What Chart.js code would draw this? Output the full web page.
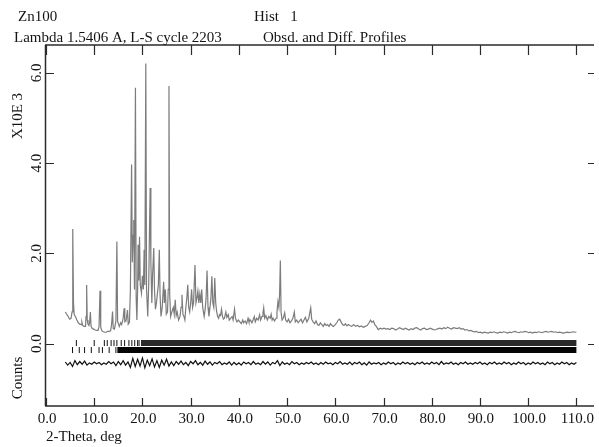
<!DOCTYPE html>
<html>
<head>
<meta charset="utf-8">
<script src="https://cdn.jsdelivr.net/npm/chart.js@4.4.1/dist/chart.umd.min.js"></script>
<style>
html,body{margin:0;padding:0;background:#fff;}
canvas{display:block;}
</style>
</head>
<body>
<canvas id="c" width="599" height="447"></canvas>
<script>
// ---- chart values ----
const headerLeft = ["Zn100", "Lambda 1.5406 A, L-S cycle 2203"];
const headerRight = ["Hist   1", "Obsd. and Diff. Profiles"];
const xAxisTitle = "2-Theta, deg";
const yAxisTitleTop = "X10E 3";
const yAxisTitleBottom = "Counts";

const xTickValues = [0, 10, 20, 30, 40, 50, 60, 70, 80, 90, 100, 110];
const xTickLabels = ["0.0", "10.0", "20.0", "30.0", "40.0", "50.0", "60.0", "70.0", "80.0", "90.0", "100.0", "110.0"];
const yTickValues = [0, 2000, 4000, 6000];
const yTickLabels = ["0.0", "2.0", "4.0", "6.0"];

// observed profile, [2-theta, counts]
const obsLow = [
[4.0,700],[4.3,650],[4.6,600],[4.9,540],[5.2,560],[5.4,700],[5.55,2540],[5.7,900],[5.85,640],[6.1,600],
[6.4,520],[6.7,460],[7.0,430],[7.3,420],[7.45,470],[7.6,400],[7.9,380],[8.2,380],[8.3,600],[8.43,1300],
[8.55,520],[8.7,430],[8.9,400],[9.05,470],[9.2,700],[9.35,380],[9.6,330],[9.9,320],[10.2,300],[10.5,290],
[10.8,290],[11.0,380],[11.2,1170],[11.35,360],[11.6,280],[11.9,260],[12.2,250],[12.5,250],[12.8,270],[13.1,270],
[13.4,280],[13.6,420],[13.8,710],[13.95,330],[14.2,320],[14.5,500],[14.7,2260],[14.85,480],[15.0,450],[15.2,380],
[15.5,460],[15.7,420],[16.0,560],[16.2,780],[16.35,480],[16.6,500],[16.9,740],[17.05,430],[17.3,470],[17.5,1200],
[17.75,3970],[17.9,1800],[18.05,2400],[18.2,2740],[18.35,1200],[18.55,5670],[18.7,1000],[18.85,520],[19.0,1200],[19.1,2190],
[19.25,1400],[19.4,2370],[19.55,1300],[19.8,1120]
];
const obsMid = [
[20.0,1500],[20.2,1200],[20.35,2080],[20.5,1300],[20.7,6210],[20.85,1200],[21.1,600],[21.3,1300],[21.45,2400],[21.6,3450],
[21.75,1800],[21.95,900],[22.1,1500],[22.35,2120],[22.5,1200],[22.7,760],[22.9,900],[23.1,1100],[23.3,1300],[23.5,2080],
[23.65,1100],[23.85,600],[24.1,800],[24.4,1370],[24.55,900],[24.75,1200],[24.95,650],[25.2,700],[25.35,1200],[25.5,5710],
[25.65,1100],[25.85,600],[26.1,700],[26.4,800],[26.6,650],[26.8,970],[27.0,620],[27.2,700],[27.5,520],[27.8,600],
[28.0,800],[28.2,1080],[28.4,650],[28.6,600],[28.8,520],[29.0,800],[29.2,1000],[29.4,1300],[29.6,800],[29.8,700],
[30.0,900],[30.2,1200],[30.4,800],[30.6,900],[30.9,1740],[31.1,900],[31.3,1000],[31.5,1160],[31.7,900],[31.9,1100],
[32.1,900],[32.3,1200],[32.5,800],[32.8,600],[33.0,750],[33.2,1000],[33.4,1620],[33.6,800],[33.8,600],[34.0,800],
[34.2,1000],[34.4,1490],[34.6,900],[34.8,800],[35.0,1450],[35.2,900],[35.4,700],[35.6,600],[35.8,560],[36.0,640],
[36.2,620],[36.4,760],[36.6,600],[36.8,540],[37.0,560],[37.3,700],[37.5,580],[37.8,640],[38.0,520],[38.3,560],
[38.6,600],[38.8,520],[39.1,760],[39.3,560],[39.6,480],[39.9,520]
];
const obsHigh = [
[40.2,480],[40.5,440],[40.8,520],[41.0,460],[41.3,500],[41.6,440],[41.9,560],[42.1,480],[42.4,520],[42.7,460],
[43.0,540],[43.2,600],[43.4,480],[43.7,560],[44.0,520],[44.3,640],[44.5,520],[44.8,600],[45.0,680],[45.15,790],
[45.35,560],[45.6,620],[45.9,520],[46.2,600],[46.5,560],[46.7,650],[46.9,520],[47.1,560],[47.4,500],[47.7,560],
[47.9,700],[48.1,930],[48.3,800],[48.45,1100],[48.6,1840],[48.75,700],[48.95,520],[49.2,560],[49.5,680],[49.7,520],
[50.0,480],[50.3,540],[50.6,460],[50.9,500],[51.2,560],[51.5,700],[51.7,480],[52.0,520],[52.3,460],[52.6,500],
[52.9,540],[53.2,460],[53.5,520],[53.8,580],[54.1,480],[54.5,560],[54.7,680],[54.9,790],[55.1,540],[55.4,480],
[55.7,440],[56.0,500],[56.3,420],[56.6,400],[56.9,460],[57.2,420],[57.5,380],[57.8,440],[58.1,400],[58.4,420],
[58.7,380],[59.0,440],[59.3,400],[59.6,380],[60.0,420],[60.3,460],[60.6,520],[60.9,540],[61.2,480],[61.5,420],
[61.8,400],[62.1,440],[62.4,390],[62.7,420],[63.0,400],[63.4,380],[63.8,420],[64.2,380],[64.6,400],[65.0,370],
[65.4,390],[65.8,360],[66.2,380],[66.6,400],[67.0,460],[67.3,520],[67.6,470],[67.9,500],[68.2,420],[68.5,380],
[68.9,310],[69.3,340],[69.7,320],[70.1,340],[70.5,320],[70.9,330],[71.3,310],[71.7,340],[72.1,330],[72.5,300],
[72.9,320],[73.3,350],[73.7,330],[74.1,310],[74.5,340],[74.9,320],[75.3,300],[75.7,330],[76.1,310],[76.5,340],
[76.9,350],[77.3,320],[77.7,300],[78.1,330],[78.5,340],[78.9,310],[79.3,320],[79.7,340],[80.1,320],[80.5,300],
[80.9,310],[81.3,330],[81.7,340],[82.1,320],[82.5,350],[82.9,330],[83.3,360],[83.7,340],[84.1,320],[84.5,350],
[84.9,340],[85.3,330],[85.7,350],[86.1,320],[86.5,330],[86.9,300],[87.3,310],[87.7,280],[88.1,290],[88.5,270],
[88.9,260],[89.3,270],[89.7,240],[90.1,250],[90.5,230],[90.9,250],[91.3,240],[91.7,230],[92.1,250],[92.5,240],
[92.9,260],[93.3,240],[93.7,230],[94.1,250],[94.5,240],[94.9,260],[95.3,250],[95.7,230],[96.1,250],[96.5,240],
[96.9,260],[97.3,270],[97.7,250],[98.1,240],[98.5,260],[98.9,250],[99.3,270],[99.7,260],[100.1,240],[100.5,250],
[100.9,230],[101.3,250],[101.7,240],[102.1,260],[102.5,250],[102.9,240],[103.3,260],[103.7,270],[104.1,250],[104.5,260],
[104.9,270],[105.3,250],[105.7,260],[106.1,240],[106.5,250],[106.9,240],[107.3,230],[107.7,240],[108.1,250],[108.5,240],
[108.9,250],[109.3,260],[109.7,250],[110.0,255]
];

// difference profile (obs - calc), constant 0.5 deg step from 4.0 deg
const diffStart = 4.0;
const diffStep = 0.5;
const diffValues = [
30,-40,20,-70,60,-30,40,-20,50,-40,
10,-20,30,-10,20,-30,10,-20,40,-10,
30,-50,40,-30,60,-40,30,-90,110,-70,
90,-60,120,-100,70,-50,100,-80,60,-90,
70,-40,90,-60,30,-50,40,-20,50,-30,
20,-50,40,-10,60,-30,20,-40,50,-20,
30,-40,20,-10,40,-30,10,-20,30,-40,
20,-30,10,-40,30,-10,20,-30,40,-20,
10,-30,40,-20,30,-40,20,-10,60,-50,
30,-20,10,-30,40,-10,20,-30,10,-20,
20,-10,30,-20,10,-30,20,-20,30,-10,
10,-30,20,-10,40,-20,10,-20,30,-30,
20,-10,30,-30,10,-40,30,-20,10,-10,
20,-30,10,-20,30,-10,20,-30,10,-20,
30,-10,20,-20,10,-30,20,-10,30,-20,
10,-20,30,-10,20,-30,40,-20,10,-10,
30,-20,10,-30,20,-10,30,-20,10,-20,
20,-10,30,-20,10,-30,20,-10,30,-20,
10,-20,30,-10,20,-30,10,-20,30,-10,
20,-30,10,-20,30,-10,20,-20,10,-30,
30,-10,20,-30,10,-20,30,-10,20,-30,
10,-20,20
];
const diffOffset = -440;

// reflection markers (2-theta), isolated ones and the dense continuous range
const phase1Ticks = [6.3, 10.0, 12.1, 12.7, 13.5, 14.1, 14.7, 15.6, 16.3, 17.2, 17.8, 18.4, 19.0, 19.3];
const phase1Dense = [19.7, 110.0];
const phase2Ticks = [5.5, 6.9, 8.0, 9.4, 11.0, 11.7, 13.1, 14.5];
const phase2Dense = [14.8, 110.0];
const phase1Level = 10;
const phase2Level = -145;

// ---- build datasets ----
const toPts = arr => arr.map(p => ({x: p[0], y: p[1]}));
const obsPts = toPts(obsLow.concat(obsMid, obsHigh));
const diffPts = diffValues.map((v, i) => ({x: diffStart + i * diffStep, y: v + diffOffset}));
const tickPts = (arr, lvl) => arr.map(t => ({x: t, y: lvl}));

const FONT = '"Liberation Serif", "Times New Roman", serif';

const gsasFrame = {
  id: 'gsasFrame',
  afterDraw(chart) {
    const ctx = chart.ctx;
    const a = chart.chartArea;
    const xs = chart.scales.x, ys = chart.scales.y;
    ctx.save();
    ctx.strokeStyle = '#2b2b2b';
    ctx.lineWidth = 1.5;
    ctx.beginPath();
    ctx.moveTo(a.left - 0.5, a.top); ctx.lineTo(a.left - 0.5, a.bottom);
    ctx.moveTo(a.left - 1, a.top); ctx.lineTo(a.right, a.top);
    ctx.moveTo(a.left - 1, a.bottom); ctx.lineTo(a.right, a.bottom);
    ctx.stroke();
    ctx.lineWidth = 1.2;
    ctx.beginPath();
    xTickValues.forEach(v => {
      const px = Math.round(xs.getPixelForValue(v)) + 0.5;
      ctx.moveTo(px, a.top); ctx.lineTo(px, a.top + 10);
      ctx.moveTo(px, a.bottom); ctx.lineTo(px, a.bottom - 8);
    });
    yTickValues.forEach(v => {
      const py = Math.round(ys.getPixelForValue(v)) + 0.5;
      ctx.moveTo(a.left, py); ctx.lineTo(a.left + 8, py);
      ctx.moveTo(a.right, py); ctx.lineTo(a.right - 6, py);
    });
    ctx.stroke();
    ctx.fillStyle = '#141414';
    ctx.font = '15px ' + FONT;
    ctx.textAlign = 'center';
    ctx.textBaseline = 'middle';
    xTickValues.forEach((v, i) => {
      ctx.fillText(xTickLabels[i], xs.getPixelForValue(v) + 1, a.bottom + 13);
    });
    yTickValues.forEach((v, i) => {
      ctx.save();
      ctx.translate(37.5, ys.getPixelForValue(v));
      ctx.rotate(-Math.PI / 2);
      ctx.fillText(yTickLabels[i], 0, 0);
      ctx.restore();
    });
    ctx.save(); ctx.translate(18, 116); ctx.rotate(-Math.PI / 2); ctx.fillText(yAxisTitleTop, 0, 0); ctx.restore();
    ctx.save(); ctx.translate(18, 378); ctx.rotate(-Math.PI / 2); ctx.fillText(yAxisTitleBottom, 0, 0); ctx.restore();
    ctx.textAlign = 'left';
    ctx.fillText(xAxisTitle, 46, 437);
    ctx.textBaseline = 'alphabetic';
    ctx.fillText(headerLeft[0], 18, 21);
    ctx.fillText(headerLeft[1], 14, 42);
    ctx.fillText(headerRight[0], 254, 21);
    ctx.fillText(headerRight[1], 263, 42);
    ctx.restore();
  }
};

new Chart(document.getElementById('c'), {
  type: 'scatter',
  data: {
    datasets: [
      {label: 'Obsd', data: obsPts, showLine: true, borderColor: '#7c7c7c', borderWidth: 1.2, pointRadius: 0, tension: 0},
      {label: 'Diff', data: diffPts, showLine: true, borderColor: '#111', borderWidth: 1.2, pointRadius: 0, tension: 0},
      {label: 'Phase 1', data: tickPts(phase1Ticks, phase1Level), pointStyle: 'line', rotation: 90, radius: 3, borderColor: '#111', borderWidth: 1, showLine: false},
      {label: 'Phase 2', data: tickPts(phase2Ticks, phase2Level), pointStyle: 'line', rotation: 90, radius: 3, borderColor: '#111', borderWidth: 1, showLine: false},
      {label: 'Phase 1 dense', data: tickPts(phase1Dense, phase1Level), showLine: true, borderColor: '#2a2a2a', borderWidth: 6, borderCapStyle: 'butt', pointRadius: 0},
      {label: 'Phase 2 dense', data: tickPts(phase2Dense, phase2Level), showLine: true, borderColor: '#050505', borderWidth: 6, borderCapStyle: 'butt', pointRadius: 0}
    ]
  },
  options: {
    responsive: false,
    animation: false,
    devicePixelRatio: 1,
    layout: {padding: {left: 46, right: 0, top: 45, bottom: 41}},
    plugins: {legend: {display: false}, tooltip: {enabled: false}},
    scales: {
      x: {type: 'linear', min: 0, max: 113.65, display: false},
      y: {type: 'linear', min: -1386, max: 6621, display: false}
    }
  },
  plugins: [gsasFrame]
});
</script>
</body>
</html>
